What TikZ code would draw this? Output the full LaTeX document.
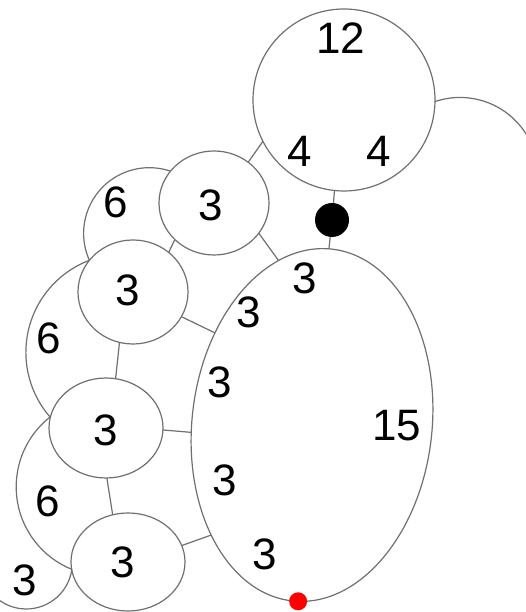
\documentclass[tikz,border=0pt]{standalone}
\usepackage{fontspec}
\setmainfont{Liberation Sans}
\usetikzlibrary{shapes.geometric}
\definecolor{ln}{RGB}{112,112,112}
\begin{document}
\begin{tikzpicture}[x=1pt,y=1pt,
  ring/.style={draw=ln, line width=1.2pt, inner sep=0pt, outer sep=0pt},
  edge/.style={draw=ln, line width=1.2pt},
  num/.style={font=\fontsize{44}{44}\selectfont, inner sep=0pt, text=black}]
\fill[white] (0,0) rectangle (526,612);
\useasboundingbox (0,0) rectangle (526,612);

% shapes
\node[ring, circle, minimum size=182pt] (T) at (344,512) {};
\node[ring, ellipse, minimum width=240pt, minimum height=354pt, rotate=-6.5] (E) at (312,187) {};
\node[ring, ellipse, minimum width=110pt, minimum height=104pt] (A) at (214,409) {};
\node[ring, ellipse, minimum width=110pt, minimum height=104pt] (B) at (133,320) {};
\node[ring, ellipse, minimum width=114pt, minimum height=100pt] (C) at (106,184) {};
\node[ring, ellipse, minimum width=114pt, minimum height=98pt] (D) at (128,50) {};

% region boundaries
\draw[edge] (T.-1.3) arc[start angle=108.7, end angle=28, radius=78];
\coordinate (jB) at (B.144);
\draw[edge] (jB) arc[start angle=204.2, end angle=71.3, radius=65.7];
\draw[edge] (jB) arc[start angle=110.8, end angle=221, radius=98.5] coordinate (jC);
\draw[edge] (jC) arc[start angle=128.3, end angle=248, radius=89] coordinate (jD);
\draw[edge] (jD) arc[start angle=-8, end angle=-128, radius=46];

% connectors
\draw[edge] (A.50) -- (T.207);
\draw[edge] (A.-34) -- (E.108.5);
\draw[edge] (A.223) -- (B.48);
\draw[edge] (B.-27) -- (E.143);
\draw[edge] (B.-105) -- (C.79);
\draw[edge] (C.-2) -- (E.190.3);
\draw[edge] (C.-89) -- (D.108);
\draw[edge] (D.17) -- (E.234.7);

% dots
\node[circle, fill=black, minimum size=34pt, inner sep=0pt] (K) at (332,392) {};
\draw[edge] (T.-96) -- (K);
\draw[edge] (K) -- (E.91);
\node[circle, fill=red, minimum size=18pt, inner sep=0pt] (R) at (E.-88) {};

% labels
\node[num] (l12) at (341,573.5) {12};
\node[num] (l4a) at (299.5,461) {4};
\node[num] (l4b) at (378.5,461) {4};
\node[num] (lA) at (211,407) {3};
\node[num] (lB) at (128,321.5) {3};
\node[num] (lC) at (106,182) {3};
\node[num] (lD) at (123,49.5) {3};
\node[num] (lBL) at (25,32) {3};
\node[num] (l6a) at (115.5,409.5) {6};
\node[num] (l6b) at (49,273.5) {6};
\node[num] (l6c) at (47.5,110.5) {6};
\node[num] (lE1) at (305,334) {3};
\node[num] (lE2) at (248.5,299.5) {3};
\node[num] (lE3) at (220,229.5) {3};
\node[num] (l15) at (396.5,186.5) {15};
\node[num] (lE4) at (225,132) {3};
\node[num] (lE5) at (265,58) {3};
\end{tikzpicture}
\end{document}
